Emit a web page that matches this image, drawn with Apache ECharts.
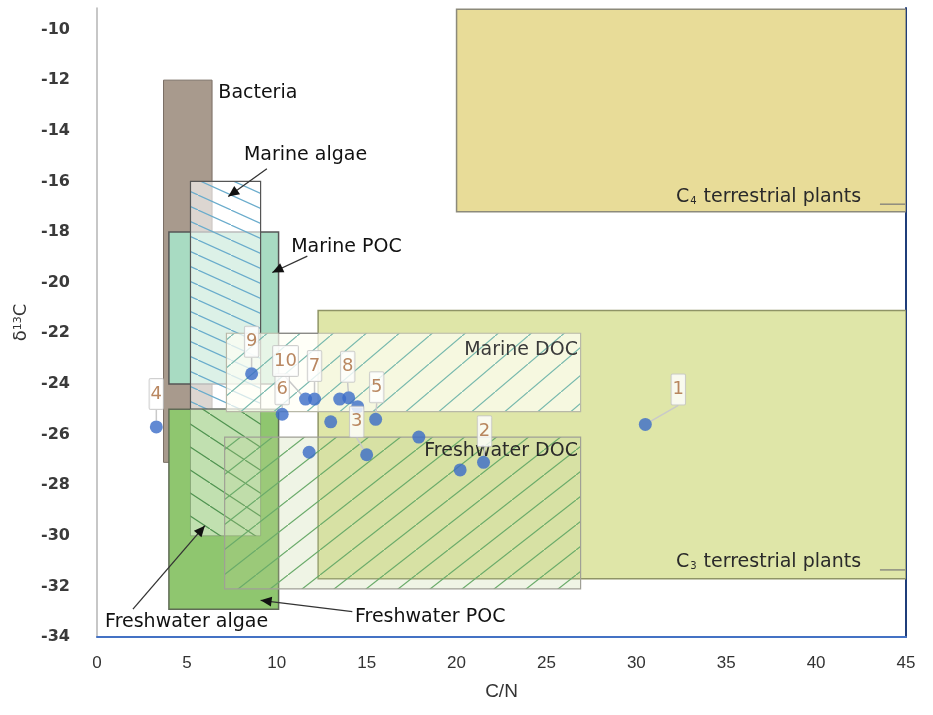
<!DOCTYPE html>
<html>
<head>
<meta charset="utf-8">
<title></title>
<style>
  html, body { margin: 0; padding: 0; background: #fff; }
  #chart { width: 933px; height: 715px; }
</style>
</head>
<body>
<div id="chart"></div>
<script src="https://cdn.jsdelivr.net/npm/echarts@6/dist/echarts.min.js"></script>
<script>
// sample points (C/N, d13C) and their tags
var cnRatio = [30.5, 21.5, 15.0, 3.3, 15.5, 10.3, 12.1, 14.0, 8.6, 11.6, 20.2, 17.9, 13.0, 14.5, 13.5, 11.8];
var d13C    = [-25.6, -27.1, -26.8, -25.7, -25.4, -25.2, -24.6, -24.55, -23.6, -24.6, -27.4, -26.1, -25.5, -24.9, -24.6, -26.7];
var ptLabel = ['1', '2', '3', '4', '5', '6', '7', '8', '9', '10', '', '', '', '', '', ''];

// source ranges
var srcName = ['C4 terrestrial plants', 'C3 terrestrial plants', 'Bacteria', 'Marine POC', 'Freshwater POC',
               'Marine algae', 'Freshwater algae', 'Freshwater DOC', 'Marine DOC'];
var cnMin = [20, 12.3, 3.7, 4.0, 4.0, 5.2, 5.2, 7.1, 7.2];
var cnMax = [45, 45, 6.4, 10.1, 10.1, 9.1, 9.1, 26.9, 26.9];
var cMin  = [-17.2, -31.7, -27.1, -24, -32.9, -25, -30, -32.1, -25.1];
var cMax  = [-9.2, -21.1, -12, -18, -25, -16, -25, -26.1, -22];

var xTicks = [0, 5, 10, 15, 20, 25, 30, 35, 40, 45];
var yTicks = [-34, -32, -30, -28, -26, -24, -22, -20, -18, -16, -14, -12, -10];

// ---- look of the ranges ----
function hatch(bg, color, w, h, dir) {
  var c = document.createElement('canvas');
  c.width = w; c.height = h;
  var ctx = c.getContext('2d');
  ctx.fillStyle = bg;
  ctx.fillRect(0, 0, w, h);
  ctx.strokeStyle = color;
  ctx.lineWidth = 1.2;
  ctx.beginPath();
  if (dir == '\\') { ctx.moveTo(-w, -h); ctx.lineTo(2 * w, 2 * h); }
  else { ctx.moveTo(-w, 2 * h); ctx.lineTo(2 * w, -h); }
  ctx.stroke();
  return { image: c, repeat: 'repeat' };
}

var boxStyle = [
  { fill: '#e8dc98', stroke: '#8c8a7a', lw: 1.5 },
  { fill: '#dfe6a8', stroke: '#8f9466', lw: 1.5 },
  { fill: '#a89a8d', stroke: '#7a6e65', lw: 1 },
  { fill: '#a8dbc2', stroke: '#555', lw: 1.5 },
  { fill: '#8fc66f', stroke: '#5f6b55', lw: 1.5 },
  { fill: hatch('rgba(255,255,255,0.6)', '#6aaccc', 33, 15, '\\'), stroke: '#555', lw: 1.2 },
  { fill: hatch('rgba(255,255,255,0.45)', '#4f9350', 35, 23, '\\'), stroke: 'rgba(110,130,100,0.5)', lw: 1 },
  { fill: hatch('rgba(190,210,150,0.25)', '#6aab6a', 32, 25, '/'), stroke: '#a0a096', lw: 1.2 },
  { fill: hatch('rgba(255,255,245,0.72)', '#76b8ad', 33, 28, '/'), stroke: '#b8b8a8', lw: 1.2 }
];

// text notes, arrows and short leader lines (data coordinates)
var notes = [
  { t: 'Bacteria', x: 6.75, y: -12.5, align: 'left', color: '#111' },
  { t: 'Marine algae', x: 11.6, y: -14.95, align: 'center', color: '#111' },
  { t: 'Marine POC', x: 10.8, y: -18.6, align: 'left', color: '#111' },
  { t: 'Marine DOC', x: 26.75, y: -22.65, align: 'right', color: '#3a3a3a' },
  { t: 'Freshwater DOC', x: 26.75, y: -26.65, align: 'right', color: '#2a2a2a' },
  { t: 'C{s|4} terrestrial plants', x: 42.5, y: -16.6, align: 'right', color: '#2a2a2a' },
  { t: 'C{s|3} terrestrial plants', x: 42.5, y: -31.05, align: 'right', color: '#2a2a2a' },
  { t: 'Freshwater algae', x: 0.45, y: -33.4, align: 'left', color: '#111' },
  { t: 'Freshwater POC', x: 14.35, y: -33.2, align: 'left', color: '#111' }
];
var arrows = [
  { from: [9.45, -15.5], to: [7.3, -16.6], head: true },
  { from: [11.7, -18.95], to: [9.75, -19.6], head: true },
  { from: [2.0, -32.9], to: [6.0, -29.6], head: true },
  { from: [14.2, -33.0], to: [9.1, -32.55], head: true },
  { from: [10.1, -22.0], to: [12.3, -22.0], head: false },
  { from: [43.55, -16.9], to: [44.95, -16.9], head: false },
  { from: [43.55, -31.35], to: [44.95, -31.35], head: false }
];
var labelShift = [[33, -35], [1, -31], [-10, -33], [0, -33], [1, -32], [0, -25], [0, -33], [-1, -31], [0, -32], [-20, -38]];

var chart = echarts.init(document.getElementById('chart'));

var option = {
  animation: false,
  grid: { left: 97, right: 27, top: 8, bottom: 78 },
  xAxis: {
    type: 'value', min: 0, max: 45, interval: 5,
    name: 'C/N', nameLocation: 'middle', nameGap: 45,
    nameTextStyle: { fontFamily: 'Liberation Sans', fontSize: 19, color: '#333' },
    axisLine: { show: true, lineStyle: { color: '#4472c4', width: 2 } },
    axisTick: { show: false },
    splitLine: { show: false },
    axisLabel: {
      margin: 18, fontFamily: 'Liberation Sans', fontSize: 17, color: '#333',
      formatter: function (v) { return xTicks.indexOf(v) >= 0 ? String(v) : ''; }
    }
  },
  yAxis: [{
    type: 'value', min: -34, max: -9.15, interval: 2,
    name: '{d|δ}{s|13}{d|C}', nameLocation: 'middle', nameGap: 64, nameRotate: 90,
    nameTextStyle: {
      color: '#333',
      rich: {
        d: { fontFamily: 'DejaVu Sans', fontSize: 18, color: '#333' },
        s: { fontFamily: 'DejaVu Sans', fontSize: 11, color: '#333', verticalAlign: 'top' }
      }
    },
    axisLine: { show: true, lineStyle: { color: '#b5b5b5', width: 1.5 } },
    axisTick: { show: false },
    splitLine: { show: false },
    axisLabel: {
      margin: 27, fontFamily: 'DejaVu Sans', fontSize: 16, fontWeight: 'bold', color: '#3a3a3a',
      formatter: function (v) { return yTicks.indexOf(v) >= 0 ? String(v) : ''; }
    }
  }, {
    type: 'value', min: -34, max: -9.15, position: 'right',
    axisLine: { show: true, lineStyle: { color: '#1f3d7a', width: 2 } },
    axisTick: { show: false }, axisLabel: { show: false }, splitLine: { show: false }
  }],
  series: [
    {
      type: 'custom',
      clip: true,
      silent: true,
      data: srcName.map(function (n, i) { return [cnMin[i], cnMax[i], cMin[i], cMax[i]]; }),
      renderItem: function (params, api) {
        var i = params.dataIndex;
        var p0 = api.coord([api.value(0), api.value(3)]);
        var p1 = api.coord([api.value(1), api.value(2)]);
        var st = boxStyle[i];
        return {
          type: 'rect',
          shape: { x: p0[0], y: p0[1], width: p1[0] - p0[0], height: p1[1] - p0[1] },
          style: { fill: st.fill, stroke: st.stroke, lineWidth: st.lw }
        };
      }
    },
    {
      type: 'custom',
      silent: true,
      data: arrows.map(function (a, i) { return [a.from[0], a.from[1], a.to[0], a.to[1]]; }),
      renderItem: function (params, api) {
        var a = arrows[params.dataIndex];
        var s = api.coord(a.from), e = api.coord(a.to);
        var children = [{
          type: 'line',
          shape: { x1: s[0], y1: s[1], x2: e[0], y2: e[1] },
          style: { stroke: a.head ? '#333' : '#777', lineWidth: a.head ? 1.3 : 1.2 }
        }];
        if (a.head) {
          var ang = Math.atan2(e[1] - s[1], e[0] - s[0]);
          var L = 11, W = 5;
          var bx = e[0] - L * Math.cos(ang), by = e[1] - L * Math.sin(ang);
          children.push({
            type: 'polygon',
            shape: { points: [
              [e[0], e[1]],
              [bx + W * Math.sin(ang), by - W * Math.cos(ang)],
              [bx - W * Math.sin(ang), by + W * Math.cos(ang)]
            ] },
            style: { fill: '#111' }
          });
        }
        return { type: 'group', children: children };
      }
    },
    {
      type: 'custom',
      silent: true,
      data: notes.map(function (n) { return [n.x, n.y]; }),
      renderItem: function (params, api) {
        var n = notes[params.dataIndex];
        var p = api.coord([api.value(0), api.value(1)]);
        return {
          type: 'text',
          x: p[0], y: p[1],
          style: {
            text: n.t,
            fill: n.color,
            font: '19px "DejaVu Sans"',
            align: n.align,
            verticalAlign: 'middle',
            rich: { s: { fontSize: 10, fontFamily: 'DejaVu Sans', fill: n.color, verticalAlign: 'bottom', padding: [8, 1, 0, 1] } }
          }
        };
      }
    },
    {
      type: 'scatter',
      symbolSize: 13,
      itemStyle: { color: '#3a6cc8' },
      data: cnRatio.map(function (x, i) {
        return { name: ptLabel[i], value: [x, d13C[i]], label: { show: ptLabel[i] !== '' } };
      }),
      label: {
        position: 'inside',
        formatter: '{b}',
        fontFamily: 'DejaVu Sans', fontSize: 18, color: '#a8693a',
        backgroundColor: '#fff', borderColor: '#c4c4c4', borderWidth: 1, borderRadius: 1,
        lineHeight: 18, padding: [3, 1, 9, 1]
      },
      labelLine: { show: true, lineStyle: { color: '#c9c9c9', width: 1.5 } },
      labelLayout: function (p) {
        var s = labelShift[p.dataIndex];
        if (!s) return {};
        return {
          x: p.rect.x + p.rect.width / 2 + s[0],
          y: p.rect.y + p.rect.height / 2 + s[1],
          align: 'center', verticalAlign: 'middle'
        };
      }
    }
  ]
};

chart.setOption(option);
</script>
</body>
</html>
